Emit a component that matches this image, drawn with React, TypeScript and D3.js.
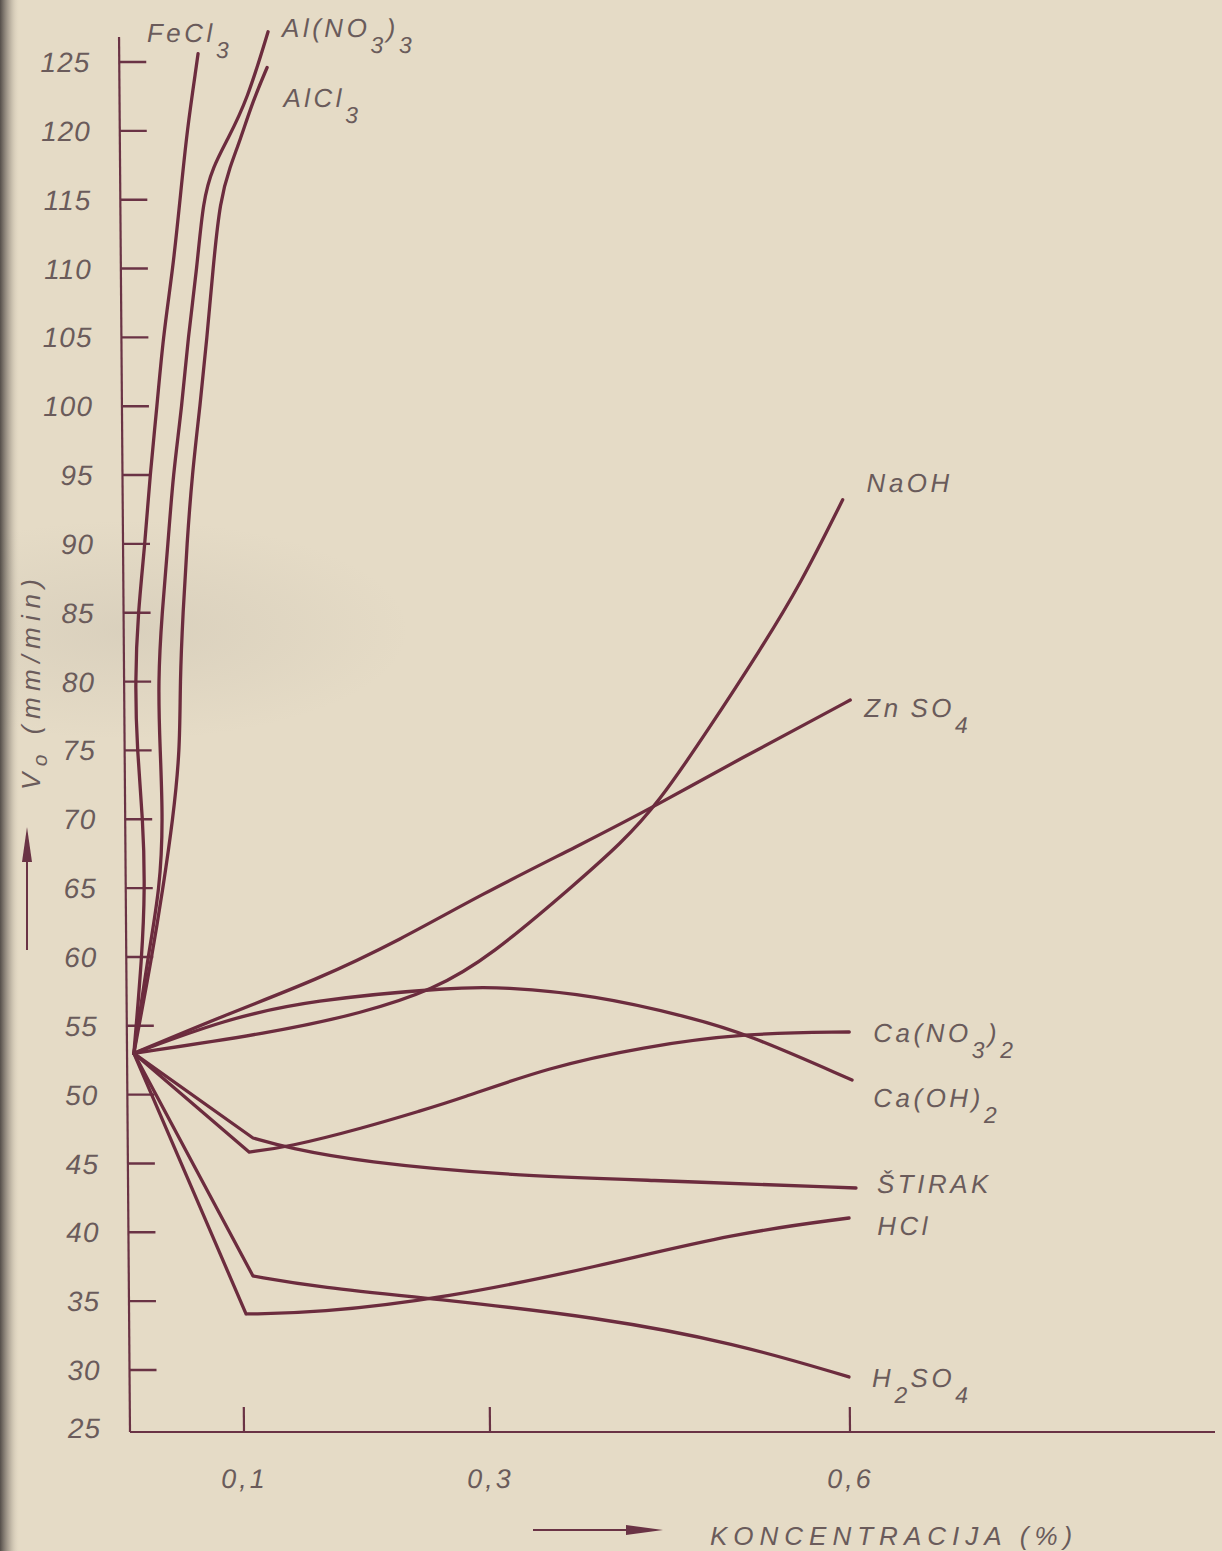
import React from 'react';
import * as d3 from 'd3';

const W = 1222;
const H = 1551;

// ---- axis ticks ----
const xTickValues = [0.1, 0.3, 0.6];
const xTickLabels = ['0,1', '0,3', '0,6'];
const yTickValues = [30, 35, 40, 45, 50, 55, 60, 65, 70, 75, 80, 85, 90, 95, 100, 105, 110, 115, 120, 125];
const yTickLabels = ['30', '35', '40', '45', '50', '55', '60', '65', '70', '75', '80', '85', '90', '95', '100', '105', '110', '115', '120', '125'];
const yBottomLabel = '25';

// ---- series: [koncentracija %, V0 mm/min] ----
const feCl3: [number, number][] = [
  [0.006, 53], [0.0138, 60], [0.0169, 65], [0.0156, 70], [0.0109, 75], [0.0096, 80],
  [0.0126, 85], [0.0193, 90], [0.0241, 95], [0.0308, 100], [0.0365, 105], [0.0457, 110],
  [0.0524, 115], [0.0589, 120], [0.0682, 125], [0.0692, 125.6],
];
const alNO33: [number, number][] = [
  [0.006, 53], [0.019, 60], [0.0301, 65], [0.0332, 70], [0.0311, 75], [0.0297, 80],
  [0.0337, 85], [0.0395, 90], [0.0443, 95], [0.0527, 100], [0.0584, 105], [0.0668, 110],
  [0.0725, 115], [0.0816, 117.4], [0.094, 119.3], [0.111, 122.2], [0.1285, 127.2],
];
const alCl3: [number, number][] = [
  [0.006, 53], [0.0225, 60], [0.0327, 65], [0.0419, 70], [0.0486, 75], [0.049, 80],
  [0.0521, 85], [0.0561, 90], [0.061, 95], [0.0685, 100], [0.0751, 105], [0.0808, 110],
  [0.0875, 115], [0.0965, 117.4], [0.105, 119.3], [0.1159, 122.2], [0.1275, 124.6],
];
const naOH: [number, number][] = [
  [0.006, 53], [0.1237, 54.47], [0.1994, 55.93], [0.2565, 57.6], [0.303, 60], [0.3787, 65.6],
  [0.4122, 68.2], [0.4433, 71.03], [0.488, 76.7], [0.5302, 82.29], [0.5639, 87.0], [0.6, 93.2],
];
const znSO4: [number, number][] = [
  [0.006, 53], [0.0906, 55.93], [0.1615, 58.32], [0.23, 61.23], [0.2953, 64.5], [0.3788, 68.13],
  [0.4433, 71.03], [0.5186, 74.67], [0.5738, 77.2], [0.605, 78.66],
];
const caOH2: [number, number][] = [
  [0.006, 53], [0.0845, 55.42], [0.1564, 56.87], [0.2752, 57.81], [0.3129, 57.81],
  [0.3903, 57.23], [0.4686, 55.63], [0.5152, 54.47], [0.604, 51.06],
];
const caNO32: [number, number][] = [
  [0.006, 53], [0.1059, 45.83], [0.1376, 46.19], [0.1987, 47.57], [0.2476, 48.88],
  [0.2745, 49.6], [0.3516, 52.0], [0.4292, 53.46], [0.5152, 54.47], [0.602, 54.55],
];
const stirak: [number, number][] = [
  [0.006, 53], [0.1092, 46.85], [0.1376, 46.12], [0.1985, 45.1], [0.3117, 44.16],
  [0.4283, 43.8], [0.6066, 43.22],
];
const hCl: [number, number][] = [
  [0.006, 53], [0.1024, 34.07], [0.1593, 34.14], [0.2651, 35.23], [0.3894, 37.48],
  [0.5055, 39.95], [0.6006, 41.04],
];
const h2SO4: [number, number][] = [
  [0.006, 53], [0.1083, 36.83], [0.1594, 36.03], [0.265, 35.08], [0.3891, 33.85],
  [0.5048, 31.96], [0.5995, 29.44],
];

// label text parts: [text, isSubscript]
type Part = [string, number];
const seriesList: { data: [number, number][]; corner: number; parts: Part[]; dx: number; dy: number }[] = [
  { data: feCl3, corner: 0, parts: [['FeCl', 0], ['3', 1]], dx: -51, dy: -12 },
  { data: alNO33, corner: 0, parts: [['Al(NO', 0], ['3', 1], [')', 0], ['3', 1]], dx: 14, dy: 5 },
  { data: alCl3, corner: 0, parts: [['AlCl', 0], ['3', 1]], dx: 16, dy: 40 },
  { data: naOH, corner: 0, parts: [['NaOH', 0]], dx: 24, dy: -8 },
  { data: znSO4, corner: 0, parts: [['Zn\u2009SO', 0], ['4', 1]], dx: 14, dy: 17 },
  { data: caNO32, corner: 1, parts: [['Ca(NO', 0], ['3', 1], [')', 0], ['2', 1]], dx: 24, dy: 10 },
  { data: caOH2, corner: 0, parts: [['Ca(OH)', 0], ['2', 1]], dx: 21, dy: 27 },
  { data: stirak, corner: 1, parts: [['ŠTIRAK', 0]], dx: 21, dy: 5 },
  { data: hCl, corner: 1, parts: [['HCl', 0]], dx: 28, dy: 17 },
  { data: h2SO4, corner: 1, parts: [['H', 0], ['2', 1], ['SO', 0], ['4', 1]], dx: 23, dy: 10 },
];

const LINE = '#6c2c3e';
const AXIS = '#6a3345';
const TEXT = '#6a5b5b';
const BG = '#e5dbc6';
const FONT = "'Liberation Sans', Arial, sans-serif";

export default function App() {
  const x = d3.scaleLinear().domain([0, 0.1, 0.3, 0.6]).range([130, 244, 490, 850]);
  const y = d3.scaleLinear().domain([25, 30, 125]).range([1432, 1370, 62]);
  const x0 = x(0);
  const yb = y(25);

  const mk = (curve: d3.CurveFactory) =>
    d3
      .line<[number, number]>()
      .x((d) => x(d[0]))
      .y((d) => y(d[1]))
      .curve(curve);
  const smooth = mk(d3.curveBasis);
  const straight = mk(d3.curveLinear);

  const pathFor = (data: [number, number][], corner: number) => {
    if (corner > 0) {
      return (straight(data.slice(0, corner + 1)) || '') + (smooth(data.slice(corner)) || '');
    }
    return smooth(data) || '';
  };

  const renderLabel = (parts: Part[], px: number, py: number, key: string) => {
    let prevSub = 0;
    return (
      <text key={key} x={px} y={py} fill={TEXT} fontFamily={FONT} fontStyle="italic" fontSize={26} letterSpacing={3.5}>
        {parts.map((p, i) => {
          const dy = p[1] && !prevSub ? 16 : !p[1] && prevSub ? -16 : 0;
          prevSub = p[1];
          return (
            <tspan key={i} dy={dy} fontSize={p[1] ? 23 : 26}>
              {p[0]}
            </tspan>
          );
        })}
      </text>
    );
  };

  return (
    <svg width={W} height={H} style={{ position: 'absolute', left: 0, top: 0, display: 'block' }}>
      <defs>
        <linearGradient id="leftShade" x1="0" x2="1" y1="0" y2="0">
          <stop offset="0" stopColor="#3a3533" stopOpacity="0.85" />
          <stop offset="0.5" stopColor="#6a625a" stopOpacity="0.35" />
          <stop offset="1" stopColor="#e5dbc6" stopOpacity="0" />
        </linearGradient>
        <radialGradient id="smudge" cx="0.5" cy="0.5" r="0.5">
          <stop offset="0" stopColor="#9a948a" stopOpacity="0.15" />
          <stop offset="1" stopColor="#9a948a" stopOpacity="0" />
        </radialGradient>
      </defs>
      <rect x={0} y={0} width={W} height={H} fill={BG} />
      <ellipse cx={130} cy={630} rx={280} ry={110} fill="url(#smudge)" />
      <rect x={0} y={0} width={20} height={H} fill="url(#leftShade)" />

      <g transform={`translate(0,${yb}) skewX(0.45) translate(0,${-yb})`}>
        {/* axes */}
        <line x1={x0} x2={x0} y1={37} y2={yb} stroke={AXIS} strokeWidth={2.2} />
        <line x1={x0} x2={1215} y1={yb} y2={yb} stroke={AXIS} strokeWidth={2.2} />
        {yTickValues.map((t) => (
          <line key={'yt' + t} x1={x0} x2={x0 + 27} y1={y(t)} y2={y(t)} stroke={AXIS} strokeWidth={2.4} />
        ))}
        {yTickValues.map((t, i) => (
          <text
            key={'yl' + t}
            x={101}
            y={y(t)}
            dy="0.36em"
            textAnchor="end"
            fill={TEXT}
            fontFamily={FONT}
            fontStyle="italic"
            fontSize={28}
            letterSpacing={1}
          >
            {yTickLabels[i]}
          </text>
        ))}
        <text x={101} y={yb - 4} dy="0.36em" textAnchor="end" fill={TEXT} fontFamily={FONT} fontStyle="italic" fontSize={28} letterSpacing={1}>
          {yBottomLabel}
        </text>
        {xTickValues.map((t) => (
          <line key={'xt' + t} x1={x(t)} x2={x(t)} y1={yb} y2={yb - 25} stroke={AXIS} strokeWidth={2.2} />
        ))}
        {xTickValues.map((t, i) => (
          <text
            key={'xl' + t}
            x={x(t)}
            y={1488}
            textAnchor="middle"
            fill={TEXT}
            fontFamily={FONT}
            fontStyle="italic"
            fontSize={27}
            letterSpacing={3}
          >
            {xTickLabels[i]}
          </text>
        ))}

        {/* curves */}
        {seriesList.map((s, i) => (
          <path
            key={'s' + i}
            d={pathFor(s.data, s.corner)}
            fill="none"
            stroke={LINE}
            strokeWidth={3.3}
            strokeLinecap="round"
            strokeLinejoin="round"
          />
        ))}
        {seriesList.map((s, i) => {
          const end = s.data[s.data.length - 1];
          return renderLabel(s.parts, x(end[0]) + s.dx, y(end[1]) + s.dy, 'lab' + i);
        })}
      </g>

      {/* y axis title */}
      <g transform="translate(40,790) rotate(-90)">
        <text x={0} y={0} fill={TEXT} fontFamily={FONT} fontStyle="italic" fontSize={26} letterSpacing={6.5}>
          <tspan>V</tspan>
          <tspan dy={7} fontSize={21}>o</tspan>
          <tspan dy={-7}> (mm/min)</tspan>
        </text>
      </g>
      <line x1={27} x2={27} y1={950} y2={850} stroke={AXIS} strokeWidth={2} />
      <polygon points="27,827 22,862 32,862" fill={AXIS} />

      {/* x axis title */}
      <line x1={533} x2={640} y1={1530} y2={1530} stroke={AXIS} strokeWidth={2} />
      <polygon points="663,1530 626,1525 626,1535" fill={AXIS} />
      <text x={710} y={1545} fill={TEXT} fontFamily={FONT} fontStyle="italic" fontSize={26} letterSpacing={6}>
        KONCENTRACIJA (%)
      </text>
    </svg>
  );
}
